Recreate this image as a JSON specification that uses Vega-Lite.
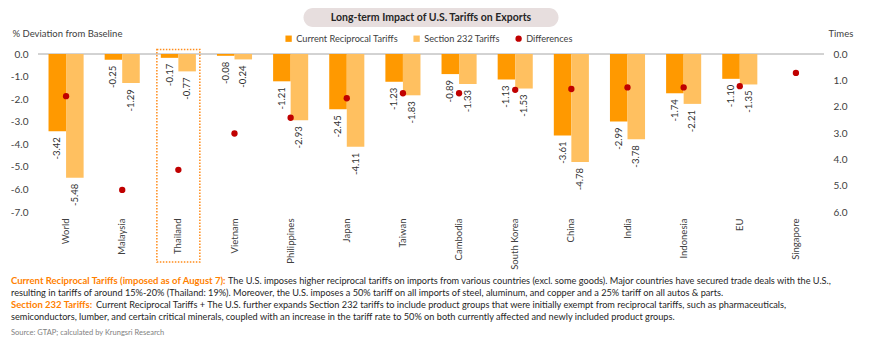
{
  "$schema": "https://vega.github.io/schema/vega-lite/v6.json",
  "width": 786,
  "height": 158,
  "autosize": {"type": "none"},
  "padding": {"left": 38, "top": 54, "right": 46, "bottom": 138},
  "config": {
    "font": "Lato",
    "view": {"stroke": null},
    "text": {"font": "Lato"},
    "axis": {"labelOverlap": false},
    "locale": {"number": {"decimal": ".", "thousands": ",", "grouping": [3], "currency": ["$", ""], "minus": "-"}}
  },
  "datasets": {
    "bars": [
      {"country": "World", "series": "Current Reciprocal Tariffs", "value": -3.42},
      {"country": "World", "series": "Section 232 Tariffs", "value": -5.48},
      {"country": "Malaysia", "series": "Current Reciprocal Tariffs", "value": -0.25},
      {"country": "Malaysia", "series": "Section 232 Tariffs", "value": -1.29},
      {"country": "Thailand", "series": "Current Reciprocal Tariffs", "value": -0.17},
      {"country": "Thailand", "series": "Section 232 Tariffs", "value": -0.77},
      {"country": "Vietnam", "series": "Current Reciprocal Tariffs", "value": -0.08},
      {"country": "Vietnam", "series": "Section 232 Tariffs", "value": -0.24},
      {"country": "Philippines", "series": "Current Reciprocal Tariffs", "value": -1.21},
      {"country": "Philippines", "series": "Section 232 Tariffs", "value": -2.93},
      {"country": "Japan", "series": "Current Reciprocal Tariffs", "value": -2.45},
      {"country": "Japan", "series": "Section 232 Tariffs", "value": -4.11},
      {"country": "Taiwan", "series": "Current Reciprocal Tariffs", "value": -1.23},
      {"country": "Taiwan", "series": "Section 232 Tariffs", "value": -1.83},
      {"country": "Cambodia", "series": "Current Reciprocal Tariffs", "value": -0.89},
      {"country": "Cambodia", "series": "Section 232 Tariffs", "value": -1.33},
      {"country": "South Korea", "series": "Current Reciprocal Tariffs", "value": -1.13},
      {"country": "South Korea", "series": "Section 232 Tariffs", "value": -1.53},
      {"country": "China", "series": "Current Reciprocal Tariffs", "value": -3.61},
      {"country": "China", "series": "Section 232 Tariffs", "value": -4.78},
      {"country": "India", "series": "Current Reciprocal Tariffs", "value": -2.99},
      {"country": "India", "series": "Section 232 Tariffs", "value": -3.78},
      {"country": "Indonesia", "series": "Current Reciprocal Tariffs", "value": -1.74},
      {"country": "Indonesia", "series": "Section 232 Tariffs", "value": -2.21},
      {"country": "EU", "series": "Current Reciprocal Tariffs", "value": -1.10},
      {"country": "EU", "series": "Section 232 Tariffs", "value": -1.35}
    ],
    "diffs": [
      {"country": "World", "diff": 1.60},
      {"country": "Malaysia", "diff": 5.16},
      {"country": "Thailand", "diff": 4.40},
      {"country": "Vietnam", "diff": 3.02},
      {"country": "Philippines", "diff": 2.42},
      {"country": "Japan", "diff": 1.68},
      {"country": "Taiwan", "diff": 1.49},
      {"country": "Cambodia", "diff": 1.49},
      {"country": "South Korea", "diff": 1.36},
      {"country": "China", "diff": 1.33},
      {"country": "India", "diff": 1.27},
      {"country": "Indonesia", "diff": 1.27},
      {"country": "EU", "diff": 1.22},
      {"country": "Singapore", "diff": 0.72}
    ],
    "one": [{}]
  },
  "layer": [
    {
      "layer": [
        {
          "data": {"name": "one"},
          "mark": {"type": "rule", "color": "#A6A6A6", "strokeWidth": 1},
          "encoding": {"y": {"datum": 0}}
        },
        {
          "data": {"name": "bars"},
          "mark": {"type": "bar"},
          "encoding": {
            "x": {
              "field": "country", "type": "nominal", "sort": null,
              "scale": {
                "domain": ["World", "Malaysia", "Thailand", "Vietnam", "Philippines", "Japan", "Taiwan", "Cambodia", "South Korea", "China", "India", "Indonesia", "EU", "Singapore"],
                "paddingInner": 0.375, "paddingOuter": 0.1875
              },
              "axis": {
                "title": null, "labelAngle": -90, "domain": false, "ticks": false,
                "labelPadding": 6, "labelFontSize": 9.5, "labelColor": "#404040", "labelFont": "Lato"
              }
            },
            "xOffset": {
              "field": "series", "type": "nominal",
              "scale": {"domain": ["Current Reciprocal Tariffs", "Section 232 Tariffs"], "paddingInner": 0, "paddingOuter": 0}
            },
            "y": {
              "field": "value", "type": "quantitative",
              "scale": {"domain": [-7, 0], "nice": false, "zero": false},
              "axis": {
                "title": "% Deviation from Baseline", "titleAngle": 0, "titleX": -26, "titleY": -21,
                "titleAlign": "left", "titleBaseline": "middle", "titleFontWeight": "normal",
                "titleFontSize": 9.5, "titleColor": "#404040", "titleFont": "Lato",
                "values": [-7, -6, -5, -4, -3, -2, -1, 0], "tickCount": 10, "format": ".1f",
                "labelOverlap": false,
                "domain": false, "ticks": false, "grid": false, "labelPadding": 10,
                "labelFontSize": 10, "labelColor": "#404040", "labelFont": "Lato"
              }
            },
            "color": {
              "field": "series", "type": "nominal",
              "scale": {
                "domain": ["Current Reciprocal Tariffs", "Section 232 Tariffs", "Differences"],
                "range": ["#FF9900", "#FFC060", "#C00000"]
              },
              "legend": {
                "orient": "none", "legendX": 246, "legendY": -20, "direction": "horizontal",
                "title": null, "symbolSize": 40, "symbolType": "square", "symbolStrokeWidth": 0,
                "labelFontSize": 9.2, "labelColor": "#404040", "labelFont": "Lato",
                "columnPadding": 14, "labelOffset": 3, "padding": 0,
                "encode": {"symbols": {"update": {"shape": {"signal": "datum.value === 'Differences' ? 'circle' : 'square'"}}}}
              }
            }
          }
        },
        {
          "data": {"name": "bars"},
          "mark": {"type": "text", "angle": 270, "align": "right", "baseline": "middle", "dx": -6, "fontSize": 9.5, "color": "#333333"},
          "encoding": {
            "x": {"field": "country", "type": "nominal", "sort": null},
            "xOffset": {"field": "series", "type": "nominal"},
            "y": {"field": "value", "type": "quantitative"},
            "text": {"field": "value", "type": "quantitative", "format": ".2f"}
          }
        },
        {
          "data": {"name": "one"},
          "mark": {"type": "bar", "filled": false, "fill": null, "stroke": "#FF8C1A", "strokeWidth": 1.5, "strokeDash": [1.5, 1.5], "width": {"band": 1.225}},
          "encoding": {
            "x": {"datum": "Thailand"},
            "y": {"datum": 0.2},
            "y2": {"datum": -9.215}
          }
        },
        {
          "data": {"name": "one"},
          "mark": {"type": "point", "shape": "M -0.9255,-0.0745 L 0.9255,-0.0745 A 0.0745,0.0745 0 0 1 0.9255,0.0745 L -0.9255,0.0745 A 0.0745,0.0745 0 0 1 -0.9255,-0.0745 Z", "size": 65025, "filled": true, "fill": "#E7DEDE", "opacity": 1, "strokeWidth": 0},
          "encoding": {"y": {"datum": 1.617}}
        },
        {
          "data": {"name": "one"},
          "mark": {"type": "text", "text": "Long-term Impact of U.S. Tariffs on Exports", "fontSize": 10.5, "fontWeight": "bold", "color": "#262626", "align": "center", "baseline": "middle"},
          "encoding": {"y": {"datum": 1.617}}
        },
        {
          "data": {"name": "one"},
          "mark": {"type": "text", "text": "Current Reciprocal Tariffs (imposed as of August 7):", "fontSize": 9.5, "fontWeight": "bold", "color": "#FF7F00", "align": "left", "baseline": "middle", "dx": -420},
          "encoding": {"y": {"datum": -10.057}}
        },
        {
          "data": {"name": "one"},
          "mark": {"type": "text", "text": "The U.S. imposes higher reciprocal tariffs on imports from various countries (excl. some goods). Major countries have secured trade deals with the U.S.,", "fontSize": 9.2, "color": "#262626", "align": "left", "baseline": "middle", "dx": -203},
          "encoding": {"y": {"datum": -10.057}}
        },
        {
          "data": {"name": "one"},
          "mark": {"type": "text", "text": "resulting in tariffs of around 15%-20% (Thailand: 19%). Moreover, the U.S. imposes a 50% tariff on all imports of steel, aluminum, and copper and a 25% tariff on all autos & parts.", "fontSize": 9.2, "color": "#262626", "align": "left", "baseline": "middle", "dx": -420},
          "encoding": {"y": {"datum": -10.589}}
        },
        {
          "data": {"name": "one"},
          "mark": {"type": "text", "text": "Section 232 Tariffs:", "fontSize": 9.5, "fontWeight": "bold", "color": "#FF7F00", "align": "left", "baseline": "middle", "dx": -420},
          "encoding": {"y": {"datum": -11.12}}
        },
        {
          "data": {"name": "one"},
          "mark": {"type": "text", "text": "Current Reciprocal Tariffs + The U.S. further expands Section 232 tariffs to include product groups that were initially exempt from reciprocal tariffs, such as pharmaceuticals,", "fontSize": 9.2, "color": "#262626", "align": "left", "baseline": "middle", "dx": -335},
          "encoding": {"y": {"datum": -11.12}}
        },
        {
          "data": {"name": "one"},
          "mark": {"type": "text", "text": "semiconductors, lumber, and certain critical minerals, coupled with an increase in the tariff rate to 50% on both currently affected and newly included product groups.", "fontSize": 9.2, "color": "#262626", "align": "left", "baseline": "middle", "dx": -420},
          "encoding": {"y": {"datum": -11.652}}
        },
        {
          "data": {"name": "one"},
          "mark": {"type": "text", "text": "Source: GTAP; calculated by Krungsri Research", "fontSize": 7.5, "color": "#7F7F7F", "align": "left", "baseline": "middle", "dx": -420},
          "encoding": {"y": {"datum": -12.36}}
        }
      ]
    },
    {
      "data": {"name": "diffs"},
      "mark": {"type": "circle", "size": 40, "opacity": 1},
      "encoding": {
        "x": {"field": "country", "type": "nominal", "sort": null},
        "y": {
          "field": "diff", "type": "quantitative",
          "scale": {"domain": [0, 6], "reverse": true, "nice": false, "zero": false},
          "axis": {
            "orient": "right", "title": "Times", "titleAngle": 0, "titleX": 4, "titleY": -21,
            "titleAlign": "left", "titleBaseline": "middle", "titleFontWeight": "normal",
            "titleFontSize": 9.5, "titleColor": "#404040", "titleFont": "Lato",
            "values": [0, 1, 2, 3, 4, 5, 6], "tickCount": 10, "format": ".1f", "labelOverlap": false,
            "domain": false, "ticks": false, "grid": false, "labelPadding": 9,
            "labelFontSize": 10, "labelColor": "#404040", "labelFont": "Lato"
          }
        },
        "color": {"datum": "Differences"}
      }
    }
  ],
  "resolve": {"scale": {"y": "independent"}}
}
